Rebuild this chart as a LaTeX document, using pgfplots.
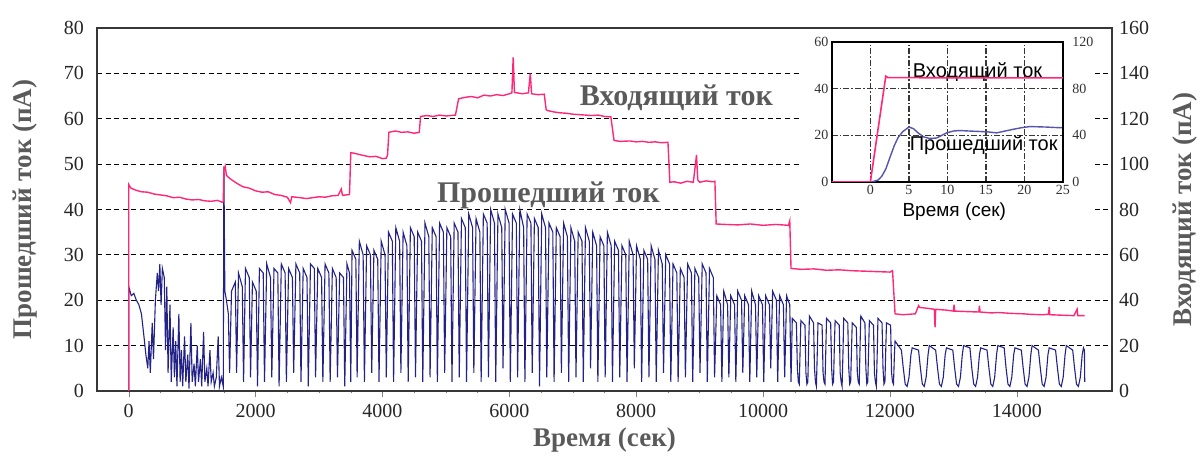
\documentclass[border=0pt]{standalone}
\usepackage{fontspec}
\setmainfont{Liberation Serif}
\newfontfamily\insetfont{Liberation Sans}
\usepackage{pgfplots}
\pgfplotsset{compat=1.18}
\definecolor{inpink}{RGB}{255,40,120}
\definecolor{outblue}{RGB}{35,35,135}
\definecolor{insblue}{RGB}{85,85,175}
\definecolor{labgray}{RGB}{90,90,90}
\definecolor{framegray}{RGB}{55,55,55}

\begin{document}
\begin{tikzpicture}
\pgfplotsset{
  mainstyle/.style={
    scale only axis, width=507.5pt, height=181.5pt,
    xmin=-500, xmax=15500, scaled x ticks=false,
    /pgf/number format/assume math mode=true,
    /pgf/number format/1000 sep={},
    tick label style={font=\fontsize{10}{12}\selectfont, text=black!85},
    axis line style={framegray, line width=0.8pt},
    label style={font=\fontsize{13.5}{16}\selectfont\bfseries, text=labgray},
  },
  insetstyle/.style={
    scale only axis, width=115.5pt, height=70pt,
    xmin=-5, xmax=25,
    /pgf/number format/assume math mode=true,
    tick label style={font=\fontsize{7}{8}\selectfont, text=black!80, inner sep=1.5pt},
    axis line style={black, line width=0.7pt},
  },
}
% main axis, left scale: transmitted current
\begin{axis}[mainstyle,
  ymin=0, ymax=80, ytick={0,10,...,80},
  xtick={0,2000,...,14000}, minor x tick num=3,
  tick align=outside, major tick length=3pt, minor tick length=1.2pt,
  ytick style={draw=none},
  xtick pos=bottom, ytick pos=left,
  ymajorgrids, grid style={black, line width=0.5pt, dash pattern=on 2.5pt off 1.8pt},
  xlabel={Время (сек)}, ylabel={Прошедший ток (пА)},
  xlabel style={at={(axis description cs:0.5,-0.135)}, anchor=center},
  ylabel style={at={(axis description cs:-0.071,0.5)}, anchor=center},
]
\addplot[outblue, line width=0.55pt] coordinates {
(0,0)(0,23)(40,21)(80,21.5)(120,20)(160,19)(200,17)(240,12)(270,8)(300,5)(320,11)(340,4)(370,15)(390,7)
(420,20)(450,26)(470,22)(490,28)(510,19)(530,27)(560,25)(580,9)(600,23)(620,4)(650,19)(670,2)(700,14)
(720,3)(740,11)(760,1)(790,17)(810,2)(830,9)(850,1)(880,12)(900,2)(930,8)(950,0.5)(980,15)(1000,2)
(1030,6)(1050,1)(1080,10)(1100,2)(1130,7)(1150,1)(1180,13)(1200,2)(1230,5)(1250,1)(1280,9)(1300,2)
(1330,4)(1350,1)(1380,3)(1410,12)(1430,1)(1460,3)(1490,1)(1500,49.5)(1515,22)(1540,20)(1570,17)(1590,4)
(1620,22)(1680,24)(1700,4)(1730,26)(1790,23)(1810,2)(1840,27)(1900,25)(1920,3)(1950,24)(2010,22)(2030,1)
(2060,27)(2120,26)(2140,2)(2175,28)(2235,25)(2255,3)(2290,27)(2350,26)(2370,1)(2405,28)(2465,26)(2485,2)
(2520,27)(2580,25)(2600,4)(2635,28)(2695,26)(2715,2)(2750,27)(2810,25)(2830,1)(2865,28)(2925,27)(2945,3)
(2980,27)(3040,25)(3060,2)(3095,28)(3155,26)(3175,2)(3210,27)(3270,25)(3290,3)(3325,26)(3385,25)(3405,1)
(3440,28)(3480,26)(3500,2)
(3520,31)(3580,29)(3600,3)(3635,33)(3695,30)(3715,2)(3750,32)(3810,30)(3830,4)(3865,31)(3925,29)(3945,2)
(3980,33)(4040,30)(4060,3)
(4095,35)(4155,33)(4175,2)(4210,36)(4270,33)(4290,4)(4325,35)(4385,32)(4405,2)(4440,36)(4500,34)(4520,3)
(4555,35)(4615,33)(4635,2)
(4670,37)(4730,34)(4750,3)(4785,36)(4845,34)(4865,2)(4900,37)(4960,35)(4980,4)(5015,36)(5075,34)(5095,2)
(5130,37)(5190,35)(5210,3)
(5245,38)(5305,36)(5325,2)(5360,39)(5420,36)(5440,4)(5475,38)(5535,35)(5555,2)(5590,39)(5650,37)(5670,3)
(5705,40)(5765,37)(5785,2)(5820,39)(5880,36)(5900,5)(5935,40)(5995,37)(6015,2)(6050,39)(6110,37)(6130,3)
(6165,40)(6225,36)(6245,2)(6280,39)(6340,37)(6360,4)(6395,38)(6455,36)(6475,1)(6510,39)(6570,36)(6590,3)
(6625,37)(6685,35)(6705,2)(6740,36)(6800,34)(6820,4)(6855,37)(6915,34)(6935,2)(6970,36)(7030,33)(7050,3)
(7085,35)(7145,33)(7165,2)(7200,36)(7260,33)(7280,5)(7315,35)(7375,32)(7395,2)(7430,34)(7490,32)(7510,3)
(7545,35)(7605,32)(7625,2)
(7660,33)(7720,31)(7740,3)(7775,32)(7835,30)(7855,2)(7890,33)(7950,30)(7970,5)(8005,32)(8065,29)(8085,2)
(8120,31)(8180,29)(8200,3)(8235,32)(8295,29)(8315,2)(8350,31)(8410,28)(8430,4)(8465,30)(8525,28)(8545,2)
(8580,28)(8640,26)(8660,2)(8695,27)(8755,25)(8775,3)(8810,28)(8870,26)(8890,2)(8925,27)(8985,25)(9005,4)
(9040,28)(9100,26)(9120,2)(9155,27)(9215,25)(9235,3)
(9270,21)(9330,19)(9350,2)(9380,22)(9440,19)(9460,3)(9490,21)(9550,19)(9570,2)(9600,22)(9660,20)(9680,4)
(9710,21)(9770,19)(9790,2)(9820,22)(9880,19)(9900,3)(9930,21)(9990,19)(10010,2)(10040,21)(10100,19)(10120,5)
(10150,22)(10210,20)(10230,2)(10260,21)(10320,19)(10340,3)(10370,21)(10420,19)(10440,2)
(10460,16)(10525,15)(10540,5)(10555,2)(10570,1.5)(10585,10)
(10595,15.5)(10660,14.5)(10675,4)(10690,1.5)(10705,2)(10720,11)
(10730,16.5)(10795,15)(10810,5)(10825,2)(10840,1)(10855,9)
(10865,15)(10930,14.5)(10945,4)(10960,2)(10975,1.5)(10990,10)
(11000,16)(11065,15)(11080,5)(11095,1.5)(11110,2)(11125,11)
(11135,15.5)(11200,14.5)(11215,4)(11230,2)(11245,1)(11260,9)
(11270,16)(11335,15)(11350,5)(11365,1.5)(11380,2)(11395,10)
(11405,15)(11470,14)(11485,4)(11500,2)(11515,1.5)(11530,11)
(11540,16.5)(11605,15)(11620,5)(11635,1.5)(11650,2)(11665,10)
(11675,15.5)(11740,14.5)(11755,4)(11770,2)(11785,1)(11800,9)
(11810,16)(11875,15)(11890,5)(11905,1.5)(11920,2)(11935,10)
(11945,15)(12010,14.5)(12025,4)(12040,2)(12055,1.5)(12070,8)
(12080,11)(12180,9)(12210,5)(12240,1.5)(12270,1)(12300,3)(12330,8)
(12350,9.5)(12450,9)(12480,5)(12510,1.5)(12540,1)(12570,3)(12600,8)
(12620,10)(12720,9)(12750,5)(12780,1.5)(12810,1)(12840,3)(12870,8)
(12890,9.5)(12990,9)(13020,5)(13050,1.5)(13080,1)(13110,3)(13140,8)
(13160,10)(13260,9.5)(13290,5)(13320,1.5)(13350,1)(13380,3)(13410,8)
(13430,9.5)(13530,9)(13560,5)(13590,1.5)(13620,1)(13650,3)(13680,8)
(13700,10)(13800,9.5)(13830,5)(13860,1.5)(13890,1)(13920,3)(13950,8)
(13970,9.5)(14070,9)(14100,5)(14130,1.5)(14160,1)(14190,3)(14220,8)
(14240,10)(14340,9)(14370,5)(14400,1.5)(14430,1)(14460,3)(14490,8)
(14510,9.5)(14610,9)(14640,5)(14670,1.5)(14700,1)(14730,3)(14760,8)
(14780,10)(14880,9)(14910,5)(14940,1.5)(14970,1)(15000,3)(15030,8)
(15050,9.5)(15065,9)(15070,2)
};
\node[anchor=west, font=\fontsize{15}{18}\selectfont\bfseries, text=labgray] at (axis cs:7000,64.7) {Входящий ток};
\node[anchor=west, font=\fontsize{15}{18}\selectfont\bfseries, text=labgray] at (axis cs:4750,43.2) {Прошедший ток};
\coordinate (insetpos) at (rel axis cs:0.724,0.576);
\coordinate (wa) at (rel axis cs:0.693,0.485);
\coordinate (wb) at (rel axis cs:0.983,0.981);
\coordinate (bbll) at (rel axis cs:-0.0956,-0.1873);
\coordinate (bbur) at (rel axis cs:1.0867,1.0771);
\end{axis}
% main axis, right scale: input current
\begin{axis}[mainstyle,
  ymin=0, ymax=160, ytick={0,20,...,160},
  axis x line=none, axis y line*=right,
  ytick style={draw=none},
  ylabel={Входящий ток (пА)},
  ylabel style={at={(axis description cs:1.072,0.5)}, anchor=center},
]
\addplot[inpink, line width=0.7pt] coordinates {
(0,0)(0,91)(30,89.5)(100,88.6)(200,87.8)(300,87.6)(400,86.8)(500,86.4)(600,86)(700,85.2)(800,85.4)(900,84.6)
(1000,84.2)(1100,84.4)(1200,83.8)(1300,83.6)(1400,84)(1470,83.2)(1490,83.4)(1500,97)(1520,99)(1540,95)
(1600,93.5)(1700,91.6)(1800,90)(1900,89.4)(2000,88.2)(2100,87.6)(2200,87.8)(2300,86.6)(2400,86.2)(2500,85.4)
(2550,83)(2570,85.6)(2700,85.2)(2800,84.8)(2900,85.2)(3000,85.6)(3100,85.4)(3200,86)(3300,86.2)(3350,89)
(3370,86.2)(3480,86.6)(3500,105)(3550,104.8)(3700,103.8)(3800,103.2)(3900,103.4)(4000,102.4)(4060,102.6)
(4080,104)(4100,114)(4200,114.6)(4300,114)(4400,114.2)(4500,113.6)(4580,114)(4600,121)(4700,121.4)
(4800,121)(4900,121.6)(5000,121.2)(5150,121.6)(5200,128.8)(5300,129.4)(5400,129.8)(5500,129.2)(5600,130.4)
(5700,130)(5800,130.6)(5900,130.2)(6000,131)(6040,131.4)(6060,147)(6080,131.6)(6200,131)(6300,131.4)
(6330,140)(6350,131)(6450,130.6)(6550,130.8)(6580,124)(6600,123.6)(6700,123)(6800,122.6)(6900,122.4)
(7000,122)(7100,121.8)(7200,121.6)(7300,121.4)(7400,121.6)(7500,121)(7600,120.8)(7650,110.4)(7750,110)
(7900,110.2)(8000,109.8)(8100,110)(8200,109.6)(8300,109.8)(8400,109.4)(8500,109.6)(8530,92)(8600,92.2)
(8700,91.6)(8800,92.4)(8900,92)(8950,104)(8970,93)(9000,92)(9100,92.6)(9200,92.2)(9240,92.4)(9260,73.6)
(9400,73.4)(9600,73.2)(9800,73.6)(10000,73)(10200,73.4)(10400,73)(10420,75)(10440,54)(10600,53.6)
(10800,53.8)(11000,53.2)(11200,53.4)(11400,53)(11600,52.8)(11800,52.6)(12000,52.4)(12040,53)(12080,34)
(12200,33.6)(12400,34)(12450,37.6)(12470,36.8)(12600,36.4)(12700,36)(12710,28)(12720,36)(12900,35.6)
(13000,35.2)(13010,38)(13020,35.2)(13200,35)(13400,34.8)(13410,37.6)(13420,34.8)(13600,34.4)(13700,34.6)
(13900,34.2)(14100,34)(14200,33.8)(14400,33.6)(14500,33.8)(14510,37)(14520,33.6)(14700,33.4)(14900,33.2)
(14950,36)(14960,33.2)(15070,33.2)
};
\end{axis}
% white panel behind the inset
\fill[white] (wa) rectangle (wb);
% inset, left scale
\begin{axis}[insetstyle, at={(insetpos)}, anchor=south west,
  ymin=0, ymax=60, ytick={0,20,40,60},
  xtick={0,5,...,25}, ytick pos=left, xtick pos=bottom,
  grid=major, grid style={framegray, line width=0.65pt, dash pattern=on 3pt off 1pt on 0.8pt off 1pt},
  major tick length=0pt,
  xlabel={\insetfont Время (сек)},
  xlabel style={at={(axis description cs:0.53,-0.215)}, anchor=center, inner sep=0pt, font=\fontsize{9.5}{11}\selectfont},
]
\addplot[insblue, line width=0.7pt] coordinates {
(-5,0)(0,0)(0.5,0.3)(1,0.8)(1.5,2.5)(2,5.5)(2.6,11)(3.1,15.5)(3.6,19)(4.2,21.5)(5,23.5)(5.6,22.8)(6.2,21)
(6.9,19.3)(7.7,18.6)(8.6,18.8)(9.3,20)(9.9,21)(10.8,21.8)(11.6,22)(12.8,21.8)(14.2,21.6)(15.3,21.4)(16.4,21)
(17.5,21.8)(18.5,22.5)(19.6,23.2)(20.7,23.7)(21.8,23.6)(22.8,23.5)(24,23.3)(25,23.2)
};
\node[anchor=west, font=\insetfont\fontsize{10}{12}\selectfont] at (axis cs:4.6,47) {Входящий ток};
\node[anchor=west, font=\insetfont\fontsize{10}{12}\selectfont] at (axis cs:4.2,15.9) {Прошедший ток};
\end{axis}
% inset, right scale
\begin{axis}[insetstyle, at={(insetpos)}, anchor=south west,
  ymin=0, ymax=120, ytick={0,40,80,120},
  axis x line=none, axis y line*=right, major tick length=0pt,
  yticklabel style={xshift=3pt},
]
\addplot[inpink, line width=0.8pt] coordinates {
(-5,0)(0,0)(2,90.6)(2.3,89.4)(10,89.2)(18,89.2)(25,89.2)
};
\end{axis}
\pgfresetboundingbox
\path[use as bounding box] (bbll) rectangle (bbur);
\end{tikzpicture}
\end{document}
